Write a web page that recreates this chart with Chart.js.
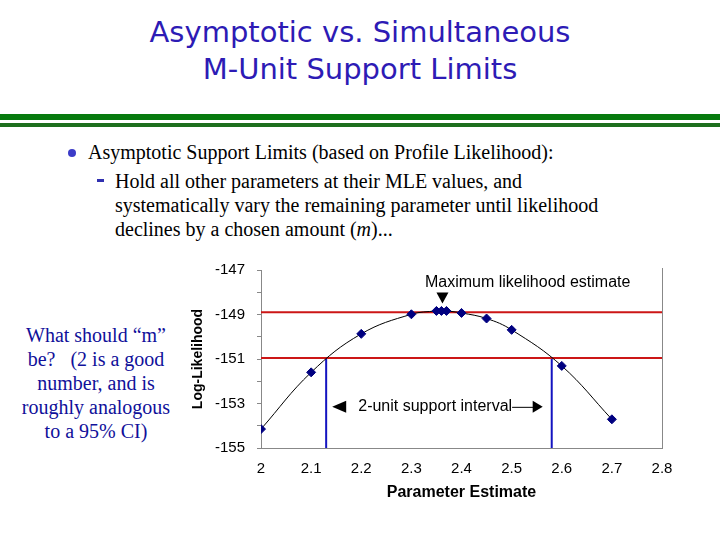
<!doctype html>
<html lang="en">

<head>
  <meta charset="utf-8">
  <title>Asymptotic vs. Simultaneous M-Unit Support Limits</title>
  <script src="https://cdn.jsdelivr.net/npm/chart.js"></script>
  <style>
    body {
      margin: 0;
      width: 720px;
      height: 540px;
      position: relative;
      overflow: hidden;
      background: #fff;
    }

    .title {
      position: absolute;
      left: 0;
      top: 14px;
      width: 720px;
      text-align: center;
      font-family: "DejaVu Sans", sans-serif;
      font-size: 29px;
      line-height: 37px;
      color: #2d1bb5;
    }

    .rule {
      position: absolute;
      left: 0;
      width: 720px;
    }

    .serif {
      position: absolute;
      font-family: "Liberation Serif", "Times New Roman", serif;
      font-size: 20px;
      line-height: 24px;
      color: #000;
      white-space: nowrap;
    }

    #chartBox {
      position: absolute;
      left: 190px;
      top: 255px;
      width: 490px;
      height: 250px;
    }
  </style>
</head>

<body>

  <!-- Slide title -->
  <div class="title">Asymptotic vs. Simultaneous<br>M-Unit Support Limits</div>

  <!-- Double green rule under the title -->
  <div class="rule" style="top:114px; height:6px; background:#067a0e;"></div>
  <div class="rule" style="top:123px; height:4px; background:#1e6f1e;"></div>

  <!-- Bullet text -->
  <div style="position:absolute; left:68px; top:149px; width:8px; height:8px; border-radius:50%; background:#3c3cc8;"></div>
  <div class="serif" style="left:88px; top:140px;">Asymptotic Support Limits (based on Profile Likelihood):</div>
  <div style="position:absolute; left:97px; top:179px; width:7px; height:3px; background:#3030b0;"></div>
  <div class="serif" style="left:115px; top:169px;">Hold all other parameters at their MLE values, and<br>systematically vary the remaining parameter until likelihood<br>declines by a chosen amount (<i>m</i>)...</div>

  <!-- Side note -->
  <div class="serif" style="left:0; top:323px; width:192px; text-align:center; color:#10109a;">What should “m”<br>be?&nbsp;&nbsp; (2 is a good<br>number, and is<br>roughly analogous<br>to a 95% CI)</div>

  <div id="chartBox">
    <canvas id="chart" width="490" height="250" aria-label="Profile log-likelihood vs parameter estimate" role="img"></canvas>
  </div>

  <script>
    // === DATA ===
    const paramValues = [2.0, 2.1, 2.2, 2.3, 2.35, 2.36, 2.37, 2.4, 2.45, 2.5, 2.6, 2.7];
    const logLikValues = [-154.15, -151.6, -149.87, -148.99, -148.84, -148.84, -148.84, -148.93, -149.18, -149.69, -151.31, -153.71];

    const supportLevels = [-148.9, -150.95];   // max likelihood and max - 2
    const intervalBounds = [2.13, 2.58];       // 2-unit support limits
    const mleValue = 2.362;

    const xRange = [2, 2.8];
    const yRange = [-155, -147];
    const yLabelledTicks = [-147, -149, -151, -153, -155];

    const AXIS_FONT = "Liberation Sans";

    // === DATASETS ===
    const curvePoints = paramValues.map((x, i) => ({ x: x, y: logLikValues[i] }));

    const levelLines = supportLevels.map(level => ({
      data: [{ x: xRange[0], y: level }, { x: xRange[1], y: level }],
      borderColor: "#cc1616",
      borderWidth: 2,
      pointRadius: 0,
      showLine: true,
      order: 2
    }));

    const boundLines = intervalBounds.map(b => ({
      data: [{ x: b, y: supportLevels[1] }, { x: b, y: yRange[0] }],
      borderColor: "#1414c0",
      borderWidth: 2,
      pointRadius: 0,
      showLine: true,
      order: 2
    }));

    // === ANNOTATIONS: text and arrow heads, placed in data coordinates ===
    const annotations = {
      id: "annotations",
      afterDatasetsDraw(chart) {
        const ctx = chart.ctx;
        const xs = chart.scales.x;
        const ys = chart.scales.y;
        const area = chart.chartArea;

        ctx.save();

        // right border of the plot area
        ctx.strokeStyle = "#888";
        ctx.lineWidth = 1;
        ctx.beginPath();
        ctx.moveTo(area.right + 0.5, area.top - 2);
        ctx.lineTo(area.right + 0.5, area.bottom);
        ctx.stroke();

        ctx.fillStyle = "#000";
        ctx.font = "16px " + AXIS_FONT;
        ctx.textBaseline = "middle";

        // maximum likelihood label with downward arrow
        ctx.textAlign = "center";
        ctx.fillText("Maximum likelihood estimate", xs.getPixelForValue(2.532), ys.getPixelForValue(-147.58));
        const mx = xs.getPixelForValue(mleValue);
        const my = ys.getPixelForValue(-148.28);
        ctx.beginPath();
        ctx.moveTo(mx - 6, my - 6);
        ctx.lineTo(mx + 6, my - 6);
        ctx.lineTo(mx, my + 5);
        ctx.closePath();
        ctx.fill();

        // support interval label with arrows
        const iy = ys.getPixelForValue(-153.15);
        ctx.textAlign = "left";
        const tx = xs.getPixelForValue(2.194);
        ctx.fillText("2-unit support interval", tx, iy);
        const tw = ctx.measureText("2-unit support interval").width;

        const lx = xs.getPixelForValue(2.142);
        ctx.beginPath();
        ctx.moveTo(lx, iy);
        ctx.lineTo(lx + 14, iy - 6);
        ctx.lineTo(lx + 14, iy + 6);
        ctx.closePath();
        ctx.fill();

        const rx = xs.getPixelForValue(2.562);
        ctx.lineWidth = 1;
        ctx.strokeStyle = "#000";
        ctx.beginPath();
        ctx.moveTo(tx + tw, iy + 0.5);
        ctx.lineTo(rx - 9, iy + 0.5);
        ctx.stroke();
        ctx.beginPath();
        ctx.moveTo(rx, iy);
        ctx.lineTo(rx - 10, iy - 6);
        ctx.lineTo(rx - 10, iy + 6);
        ctx.closePath();
        ctx.fill();

        ctx.restore();
      }
    };

    // === CHART ===
    new Chart(document.getElementById("chart"), {
      type: "scatter",
      data: {
        datasets: [
          {
            data: curvePoints,
            showLine: true,
            tension: 0.4,
            borderColor: "#000",
            borderWidth: 1,
            pointStyle: "rectRot",
            pointRadius: 4.5,
            pointBackgroundColor: "#000080",
            pointBorderColor: "#000080",
            order: 0
          },
          ...levelLines,
          ...boundLines
        ]
      },
      options: {
        responsive: false,
        animation: false,
        layout: { padding: { top: 15, right: 18, bottom: 0, left: 0 } },
        plugins: {
          legend: { display: false },
          tooltip: { enabled: false }
        },
        scales: {
          x: {
            type: "linear",
            min: xRange[0],
            max: xRange[1],
            // fixed axis height; label overhang is handled by the layout padding
            afterFit: s => { s.height = 57; s.paddingLeft = 0; s.paddingRight = 0; },
            ticks: {
              stepSize: 0.1,
              padding: 12,
              color: "#000",
              font: { family: AXIS_FONT, size: 15 },
              callback: v => Math.round(v * 10) / 10
            },
            grid: { display: false, drawTicks: false },
            border: { display: true, color: "#888", width: 1 },
            title: {
              display: true,
              text: "Parameter Estimate",
              color: "#000",
              font: { family: AXIS_FONT, size: 16, weight: "bold" },
              padding: { top: 0, bottom: 3 }
            }
          },
          y: {
            min: yRange[0],
            max: yRange[1],
            afterFit: s => { s.width = 71; s.paddingTop = 0; s.paddingBottom = 0; },
            ticks: {
              stepSize: 1,
              padding: 12,
              color: "#000",
              font: { family: AXIS_FONT, size: 15 },
              callback: v => yLabelledTicks.includes(v) ? v : ""
            },
            grid: { drawOnChartArea: false, drawTicks: true, tickLength: 4, color: "#888" },
            border: { display: true, color: "#888", width: 1 },
            title: {
              display: true,
              text: "Log-Likelihood",
              color: "#000",
              font: { family: AXIS_FONT, size: 14, weight: "bold" },
              padding: 0
            }
          }
        }
      },
      plugins: [annotations]
    });
  </script>

</body>

</html>
